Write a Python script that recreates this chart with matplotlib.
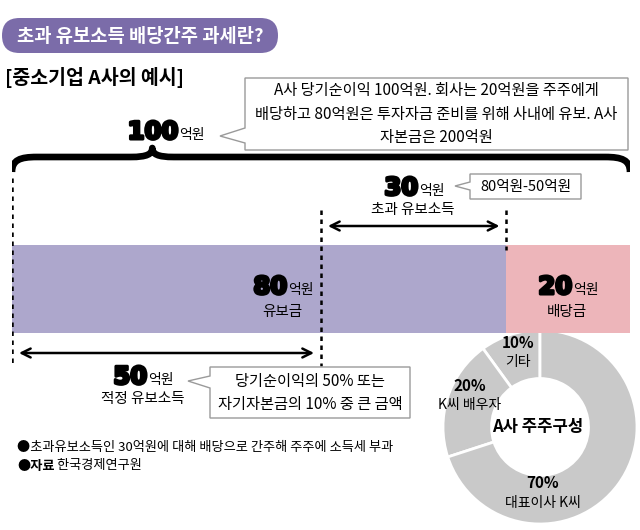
import matplotlib
matplotlib.use('Agg')
import matplotlib.pyplot as plt
from matplotlib.patches import FancyBboxPatch, Polygon, PathPatch
from matplotlib.path import Path
import matplotlib.patheffects as pe

plt.rcParams['font.family'] = ['Noto Sans CJK KR', 'DejaVu Sans']

# ---------------- data ----------------
total_profit = 100            # 당기순이익 (억원)
bar_labels = ['유보금', '배당금']
bar_values = [80, 20]         # 억원
proper_retained = 50          # 적정 유보소득
excess_retained = 30          # 초과 유보소득
share_labels = ['기타', 'K씨 배우자', '대표이사 K씨']
share_values = [10, 20, 70]   # %

title = '초과 유보소득 배당간주 과세란?'
subtitle = '[중소기업 A사의 예시]'
note1 = 'A사 당기순이익 100억원. 회사는 20억원을 주주에게\n배당하고 80억원은 투자자금 준비를 위해 사내에 유보. A사\n자본금은 200억원'
note2 = '80억원-50억원'
note3 = '당기순이익의 50% 또는\n자기자본금의 10% 중 큰 금액'
foot1 = '●초과유보소득인 30억원에 대해 배당으로 간주해 주주에 소득세 부과'
source = '한국경제연구원'

PURPLE = '#ADA7CC'
PINK = '#EDB5BA'
PILL = '#7B6CA9'
GRAY = '#C9C9C9'
EDGE = '#9A9A9A'

W, H = 640, 530
fig = plt.figure(figsize=(6.4, 5.3), dpi=100)
fig.patch.set_facecolor('white')

# overlay axes in pixel coordinates (for text & callouts)
ov = fig.add_axes([0, 0, 1, 1], zorder=3)
ov.set_xlim(0, W); ov.set_ylim(H, 0); ov.axis('off')

# donut axes
cx, cy, r = 540, 427, 97
dax = fig.add_axes([(cx - r) / W, (H - cy - r) / H, 2 * r / W, 2 * r / H], zorder=1)
dax.pie(share_values, startangle=90, counterclock=True, colors=[GRAY] * 3,
        radius=1, wedgeprops=dict(width=0.5, edgecolor='white', linewidth=2))
dax.set_xlim(-1, 1); dax.set_ylim(-1, 1); dax.set_aspect('auto'); dax.axis('off')

# bar axes: x in 억원, y in pixels
ax = fig.add_axes([12 / W, 0, 618 / W, 1], zorder=2)
ax.set_xlim(0, total_profit); ax.set_ylim(H, 0); ax.axis('off')
lefts = [sum(bar_values[:i]) for i in range(len(bar_values))]
ax.barh(289, bar_values, left=lefts, height=88, color=[PURPLE, PINK], edgecolor='none')

dash = dict(color='black', lw=1.8, ls=(0, (1.8, 1.8)))
ax.plot([0, 0], [178, 364], **dash)
ax.plot([proper_retained, proper_retained], [210, 366], **dash)
ax.plot([bar_values[0], bar_values[0]], [210, 250], **dash)

arrow = dict(arrowstyle='<->', lw=1.8, color='black', mutation_scale=16, shrinkA=5, shrinkB=5)
ax.annotate('', xy=(proper_retained, 226), xytext=(bar_values[0], 226), arrowprops=arrow)
ax.annotate('', xy=(0, 353), xytext=(proper_retained, 353), arrowprops=arrow)

# curly brace over the total
xt = 22.7
verts = [(0, 172), (0, 160), (1.3, 157), (4, 157),
         (xt - 3.5, 157), (xt - 0.8, 157), (xt, 154), (xt, 148),
         (xt, 154), (xt + 0.8, 157), (xt + 3.5, 157),
         (total_profit - 4, 157), (total_profit - 1.3, 157), (total_profit, 160), (total_profit, 172)]
codes = [Path.MOVETO, Path.CURVE4, Path.CURVE4, Path.CURVE4,
         Path.LINETO, Path.CURVE4, Path.CURVE4, Path.CURVE4,
         Path.CURVE4, Path.CURVE4, Path.CURVE4,
         Path.LINETO, Path.CURVE4, Path.CURVE4, Path.CURVE4]
ax.add_patch(PathPatch(Path(verts, codes), facecolor='none', edgecolor='black', lw=4.8,
                       capstyle='butt', joinstyle='round'))

# ---------------- header ----------------
ov.add_patch(FancyBboxPatch((2, 18), 276, 35, boxstyle='round,pad=0,rounding_size=17.5',
                            facecolor=PILL, edgecolor='none'))
ov.text(140, 36, title, color='white', fontsize=13.5, fontweight='bold', ha='center', va='center')
ov.text(5, 78, subtitle, color='black', fontsize=14, fontweight='bold', ha='left', va='center')

# ---------------- big numbers ----------------
stroke = [pe.withStroke(linewidth=2.2, foreground='black')]

def big_number(x, y, value):
    ov.text(x, y, f'{value}', fontsize=17.5, fontweight='bold', family='DejaVu Sans',
            ha='right', va='baseline', color='black', path_effects=stroke)
    ov.text(x + 1, y, '억원', fontsize=10, ha='left', va='baseline', color='black')

big_number(178, 139, total_profit)
big_number(418, 195, excess_retained)
big_number(287, 294, bar_values[0])
big_number(572, 294, bar_values[1])
big_number(147, 384, proper_retained)

ov.text(413, 210, '초과 유보소득', fontsize=10.5, ha='center', va='center')
ov.text(282, 312, bar_labels[0], fontsize=10.5, ha='center', va='center')
ov.text(567, 312, bar_labels[1], fontsize=10.5, ha='center', va='center')
ov.text(143, 399, '적정 유보소득', fontsize=10.5, ha='center', va='center')

# ---------------- callouts ----------------
def callout(x0, y0, x1, y1, tip, base0, base1):
    pts = [(x0, y0), (x1, y0), (x1, y1), (x0, y1), (x0, base1), tip, (x0, base0)]
    ov.add_patch(Polygon(pts, closed=True, facecolor='white', edgecolor=EDGE, lw=1))

callout(245, 78, 628, 150, (220, 136), 128, 143)
ov.text(436, 114, note1, fontsize=11, ha='center', va='center', linespacing=1.5)

callout(470, 174, 581, 199, (455, 186), 182, 190)
ov.text(525.5, 186.5, note2, fontsize=10.5, ha='center', va='center')

callout(210, 367, 410, 418, (188, 381), 376, 388)
ov.text(310, 393, note3, fontsize=11, ha='center', va='center', linespacing=1.45)

# ---------------- footnotes ----------------
ov.text(17, 448, foot1, fontsize=9.5, ha='left', va='center')
t = ov.text(17, 466, '●자료', fontsize=9.5, fontweight='bold', ha='left', va='center')
ov.annotate(' ' + source, xy=(1, 0.5), xycoords=t, fontsize=9.5, ha='left', va='center')

# ---------------- donut labels ----------------
label_pos = [(518, 343, 362), (470, 386, 405), (543, 483, 503)]
for (lx, ly1, ly2), lab, val in zip(label_pos, share_labels, share_values):
    ov.text(lx, ly1, f'{val}%', fontsize=11, fontweight='bold', ha='center', va='center')
    ov.text(lx, ly2, lab, fontsize=10, ha='center', va='center')
ov.text(538, 427, 'A사 주주구성', fontsize=12, fontweight='bold', ha='center', va='center')

fig.savefig('out.png', dpi=100)
